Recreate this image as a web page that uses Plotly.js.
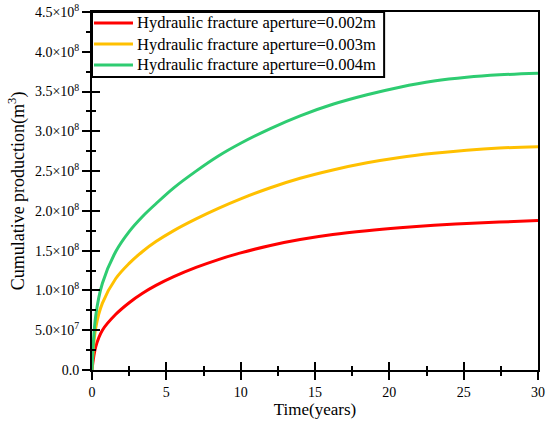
<!DOCTYPE html>
<html>
<head>
<meta charset="utf-8">
<script src="https://cdn.plot.ly/plotly-3.0.1.min.js"></script>
<style>html,body{margin:0;padding:0;background:#fff;}#chart{width:550px;height:427px;}</style>
</head>
<body>
<div id="chart"></div>
<script>
// Time in years
var time = [0, 0.25, 0.7, 1.6, 2.5, 3.4, 4.3, 5.5, 7, 8.5, 10, 12, 14, 16.2, 18.5, 20.7, 23, 25.2, 27.4, 30];
// Cumulative production (m^3)
var aperture002 = [0, 0.29e8, 0.50e8, 0.70e8, 0.846e8, 0.964e8, 1.063e8, 1.173e8, 1.289e8, 1.388e8, 1.472e8, 1.566e8, 1.64e8, 1.703e8, 1.751e8, 1.788e8, 1.82e8, 1.843e8, 1.86e8, 1.878e8];
var aperture003 = [0, 0.53e8, 0.84e8, 1.15e8, 1.34e8, 1.49e8, 1.614e8, 1.752e8, 1.899e8, 2.031e8, 2.151e8, 2.291e8, 2.41e8, 2.515e8, 2.605e8, 2.672e8, 2.724e8, 2.763e8, 2.79e8, 2.807e8];
var aperture004 = [0, 0.68e8, 1.09e8, 1.49e8, 1.74e8, 1.93e8, 2.09e8, 2.29e8, 2.50e8, 2.69e8, 2.85e8, 3.035e8, 3.195e8, 3.34e8, 3.46e8, 3.555e8, 3.632e8, 3.68e8, 3.71e8, 3.73e8];
var seriesNames = ["Hydraulic fracture aperture=0.002m", "Hydraulic fracture aperture=0.003m", "Hydraulic fracture aperture=0.004m"];
var yTickVals = [0, 0.5e8, 1.0e8, 1.5e8, 2.0e8, 2.5e8, 3.0e8, 3.5e8, 4.0e8, 4.5e8];
var yTickText = ["0.0", "5.0×10<sup>7</sup>", "1.0×10<sup>8</sup>", "1.5×10<sup>8</sup>", "2.0×10<sup>8</sup>", "2.5×10<sup>8</sup>", "3.0×10<sup>8</sup>", "3.5×10<sup>8</sup>", "4.0×10<sup>8</sup>", "4.5×10<sup>8</sup>"];
var xTickVals = [0, 5, 10, 15, 20, 25, 30];

var FONT = "'Liberation Serif', 'Times New Roman', Times, serif";
var colors = ["#ff0000", "#ffc000", "#2ecc71"];
var ys = [aperture002, aperture003, aperture004];

var traces = ys.map(function (y, i) {
  return {x: time, y: y, name: seriesNames[i], type: "scatter", mode: "lines", showlegend: false,
          line: {color: colors[i], width: 3, shape: "spline", smoothing: 1}};
});
// empty trace to hold the overlay axes (inside halves of the crossing ticks)
traces.push({x: [], y: [], xaxis: "x2", yaxis: "y2", showlegend: false, hoverinfo: "skip"});

// legend box (drawn as paper-referenced shapes + annotations)
var legendRowsY = [0.9693, 0.9106, 0.8520];
var shapes = [{type: "rect", xref: "paper", yref: "paper", x0: 0, x1: 0.655, y0: 0.8184, y1: 1,
               line: {color: "#000", width: 2}, fillcolor: "#fff", layer: "above"}];
var annotations = [];
seriesNames.forEach(function (name, i) {
  shapes.push({type: "line", xref: "paper", yref: "paper", x0: 0.0045, x1: 0.0919,
               y0: legendRowsY[i], y1: legendRowsY[i], line: {color: colors[i], width: 3}, layer: "above"});
  annotations.push({xref: "paper", yref: "paper", x: 0.0965, y: legendRowsY[i], xanchor: "left", yanchor: "middle",
                    text: name, showarrow: false, font: {family: FONT, size: 16.5, color: "#000"}});
});

var xr = [0, 30], yr = [0, 4.5e8];
var layout = {
  width: 550, height: 427,
  margin: {l: 92, r: 12, t: 12, b: 57, autoexpand: false},
  paper_bgcolor: "#fff", plot_bgcolor: "#fff",
  font: {family: FONT, color: "#000", size: 14},
  showlegend: false,
  shapes: shapes,
  annotations: annotations,
  xaxis: {range: xr, showgrid: false, zeroline: false, showline: true, linecolor: "#000", linewidth: 2,
          mirror: true, ticks: "outside", ticklen: 8, tickwidth: 2, tickcolor: "#000",
          tickvals: xTickVals, tickfont: {family: FONT, size: 14},
          minor: {ticks: "outside", ticklen: 4, tickwidth: 2, tickcolor: "#000", dtick: 2.5, showgrid: false},
          title: {text: "Time(years)", font: {family: FONT, size: 17}, standoff: 4}},
  yaxis: {range: yr, showgrid: false, zeroline: false, showline: true, linecolor: "#000", linewidth: 2,
          mirror: true, ticks: "outside", ticklen: 8, tickwidth: 2, tickcolor: "#000",
          tickvals: yTickVals, ticktext: yTickText, tickfont: {family: FONT, size: 14},
          minor: {ticks: "outside", ticklen: 4, tickwidth: 2, tickcolor: "#000", dtick: 0.25e8, showgrid: false},
          title: {text: "Cumulative production(m<sup>3</sup>)", font: {family: FONT, size: 18}, standoff: 6}},
  xaxis2: {overlaying: "x", anchor: "y2", range: xr, showgrid: false, zeroline: false, showline: false,
           ticks: "inside", ticklen: 8, tickwidth: 2, tickcolor: "#000", tickvals: xTickVals, showticklabels: false,
           minor: {ticks: "inside", ticklen: 4, tickwidth: 2, tickcolor: "#000", dtick: 2.5, showgrid: false}},
  yaxis2: {overlaying: "y", anchor: "x2", range: yr, showgrid: false, zeroline: false, showline: false,
           ticks: "inside", ticklen: 8, tickwidth: 2, tickcolor: "#000", tickvals: yTickVals, showticklabels: false,
           minor: {ticks: "inside", ticklen: 4, tickwidth: 2, tickcolor: "#000", dtick: 0.25e8, showgrid: false}}
};

Plotly.newPlot("chart", traces, layout, {displayModeBar: false, staticPlot: true});
</script>
</body>
</html>
